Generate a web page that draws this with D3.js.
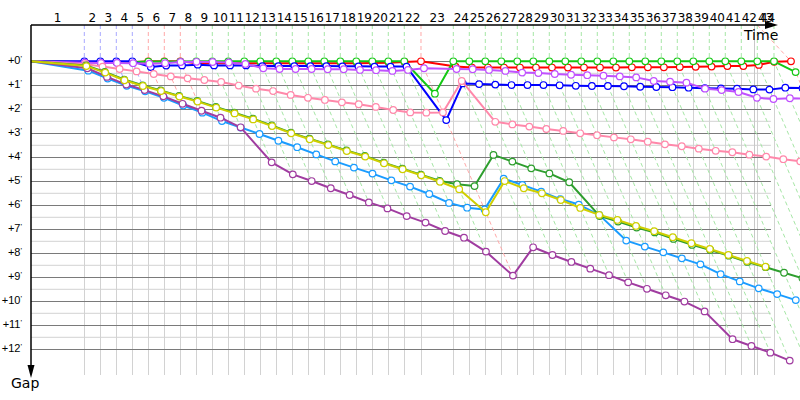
<!DOCTYPE html>
<html><head><meta charset="utf-8">
<script src="https://cdn.jsdelivr.net/npm/d3@7"></script>
<style>body{margin:0;background:#fff}svg{display:block}</style>
</head><body>
<svg id="c" width="800" height="400"></svg>
<script>
// ---------- DATA ----------
const lapLabels = ["1","2","3","4","5","6","7","8","9","10","11","12","13","14","15","16","17","18","19","20","21","22","23","24","25","26","27","28","29","30","31","32","33","34","35","36","37","38","39","40","41","42","43","44"];
// leader's lap durations, seconds
const leaderLapSeconds = [310.5,93.2,93.2,93.2,93.2,93.2,93.2,93.2,93.2,93.2,93.2,93.2,93.2,93.2,93.2,93.2,93.2,93.2,93.2,93.2,93.2,97.3,188.2,93.2,93.2,93.2,93.2,93.2,93.2,93.2,93.2,93.2,93.2,93.2,93.2,93.2,93.2,93.2,93.2,93.2,93.2,93.2,97.3,99.0];
const lapLeader = ["blue","blue","blue","blue","red","red","red","green","green","green","green","green","green","green","green","green","green","green","green","green","green","red","green","green","green","green","green","green","green","green","green","green","green","green","green","green","green","green","green","green","green","green","green","red"];
const gapTicks = [0,1,2,3,4,5,6,7,8,9,10,11,12];
const gapTickLabels = ["+0","+1","+2","+3","+4","+5","+6","+7","+8","+9","+10","+11","+12"];
const finishLineMinutes = 70.22;
const gridEndMinutes = 71.84;

// gaps to leader in minutes, index = lap (0 = start)
const gapRed = [0,0.04,0.04,0.04,0.04,0,0,0,0.08,0.08,0.08,0.08,0.08,0.08,0.08,0.08,0.08,0.08,0.08,0.07,0.06,0.03,0,0.22,0.26,0.26,0.26,0.26,0.26,0.26,0.26,0.26,0.26,0.26,0.25,0.25,0.25,0.24,0.23,0.22,0.2,0.2,0.15,0.02,0];
const gapGreen = [0,0.03,0.03,0.03,0.03,0.01,0.01,0.01,0,0,0,0,0,0,0,0,0,0,0,0,0,0,1.35,0,0,0,0,0,0,0,0,0,0,0,0,0,0,0,0,0,0,0,0,0,0.45];
const gapBlue = [0,0,0,0,0,0.24,0.18,0.17,0.14,0.17,0.17,0.17,0.2,0.2,0.2,0.2,0.2,0.21,0.21,0.22,0.22,0.22,2.45,0.92,0.95,0.97,0.99,0.99,0.99,1.0,1.02,1.03,1.03,1.04,1.06,1.07,1.08,1.1,1.12,1.13,1.14,1.17,1.18,1.1,1.12];
const gapViolet = [0,0.06,0.07,0.07,0.08,0.1,0.08,0.03,0.02,0.03,0.05,0.11,0.29,0.32,0.32,0.32,0.33,0.33,0.36,0.37,0.4,0.36,0.29,0.32,0.33,0.36,0.4,0.47,0.49,0.53,0.56,0.58,0.6,0.63,0.67,0.82,0.85,0.89,1.14,1.2,1.28,1.52,1.57,1.54,1.56];
const gapPink = [0,0.12,0.22,0.32,0.42,0.53,0.63,0.71,0.78,0.86,1.01,1.14,1.24,1.4,1.52,1.61,1.71,1.79,1.9,2.03,2.13,2.14,2.13,0.82,2.52,2.63,2.72,2.82,2.9,3.0,3.08,3.17,3.25,3.35,3.46,3.54,3.64,3.73,3.79,3.89,3.97,4.08,4.17,4.25];
const gapLightBlue = [0,0.39,0.72,1.02,1.25,1.52,1.84,2.14,2.49,2.76,3.03,3.31,3.58,3.88,4.17,4.43,4.68,4.96,5.22,5.53,5.9,6.1,6.17,4.89,5.15,5.43,5.74,5.97,6.4,7.47,7.72,7.96,8.21,8.46,8.87,9.17,9.46,9.7,9.95];
const gapPurple = [0,0.29,0.65,0.97,1.2,1.46,1.77,2.06,2.35,2.75,4.21,4.71,4.99,5.29,5.57,5.88,6.13,6.45,6.72,7.07,7.35,7.93,8.93,7.75,8.07,8.36,8.64,8.91,9.21,9.48,9.75,10.01,10.42,11.58,11.86,12.14,12.47];
const gapDarkGreen = [0,0.17,0.44,0.76,1.0,1.21,1.44,1.65,1.9,2.14,2.39,2.67,2.97,3.22,3.46,3.71,3.94,4.22,4.47,4.72,4.98,5.12,5.2,3.9,4.18,4.46,4.67,5.04,6.45,6.68,6.93,7.13,7.4,7.65,7.86,8.1,8.36,8.58,8.81,9.04];
const gapYellow = [0,0.2,0.47,0.79,1.03,1.24,1.47,1.68,1.93,2.17,2.42,2.7,3.0,3.25,3.49,3.74,3.97,4.25,4.5,4.75,5.02,5.33,6.29,4.99,5.29,5.5,5.78,6.11,6.4,6.61,6.86,7.08,7.33,7.58,7.82,8.07,8.32,8.56];
const lappedBottomGap = 13;

const series = [
  {name:"red", gaps:gapRed},
  {name:"green", gaps:gapGreen},
  {name:"blue", gaps:gapBlue},
  {name:"violet", gaps:gapViolet},
  {name:"pink", gaps:gapPink},
  {name:"lightblue", gaps:gapLightBlue},
  {name:"purple", gaps:gapPurple},
  {name:"darkgreen", gaps:gapDarkGreen},
  {name:"yellow", gaps:gapYellow}
];
const colors = {red:"#ff0000", green:"#14c814", blue:"#0000ff", violet:"#c050ff", pink:"#ff88aa", lightblue:"#1a9cff", purple:"#a03ca0", darkgreen:"#2e9e2e", yellow:"#cfcf00"};
const dashColors = {red:"#ffa8a8", green:"#a6e6a6", blue:"#a8a8ff"};

// ---------- SCALES ----------
const T = [0].concat(Array.from(d3.cumsum(leaderLapSeconds, s => s / 60)));
const x = d3.scaleLinear().domain([0, 60]).range([31, 31 + 10.3 * 60]);
const y = d3.scaleLinear().domain([0, 12]).range([61.3, 349.3]);
const topY = 25, bottomY = 375;
const nLaps = lapLabels.length;

const svg = d3.select("#c");
const font = "DejaVu Sans, sans-serif";

// horizontal grid
const halfTicks = gapTicks.slice(0, -1).map(g => g + 0.5);
svg.append("g").selectAll("line").data(halfTicks).join("line")
  .attr("x1", x(0)).attr("x2", x(gridEndMinutes))
  .attr("y1", d => y(d)).attr("y2", d => y(d))
  .attr("stroke", "#d2d2d2").attr("stroke-width", 1);
// vertical lap grid
const lapIdx = d3.range(1, nLaps);
svg.append("g").selectAll("line").data(lapIdx).join("line")
  .attr("x1", k => Math.round(x(T[k])) + 0.5).attr("x2", k => Math.round(x(T[k])) + 0.5)
  .attr("y1", y(0)).attr("y2", bottomY)
  .attr("stroke", "#d2d2d2").attr("stroke-width", 1);
svg.append("line")
  .attr("x1", Math.round(x(finishLineMinutes)) + 0.5).attr("x2", Math.round(x(finishLineMinutes)) + 0.5)
  .attr("y1", topY).attr("y2", bottomY).attr("stroke", "#c8c8c8");
svg.append("g").selectAll("line").data(gapTicks).join("line")
  .attr("x1", x(0)).attr("x2", x(gridEndMinutes))
  .attr("y1", d => Math.round(y(d)) + 0.5).attr("y2", d => Math.round(y(d)) + 0.5)
  .attr("stroke", "#7a7a7a").attr("stroke-width", 1);

// lap dashed lines (lap k connects all cars' crossings of lap k)
const lapLines = d3.range(1, nLaps + 1).map(k => {
  const gs = series.map(s => s.gaps[k]).filter(v => v !== undefined);
  const last = gapPurple.length - 1;
  const gmax = k > last ? lappedBottomGap : d3.max(gs);
  // the final lap's marker starts from the previous lap position on the time axis
  const topT = k === nLaps ? T[k - 2] : T[k];
  return {k, gmax, topT, leader: lapLeader[k - 1]};
});
svg.append("g").selectAll("path").data(lapLines).join("path")
  .attr("d", d => d3.line()([[x(d.topT), topY], [x(T[d.k]), y(0)], [x(T[d.k] + d.gmax), y(d.gmax)]]))
  .attr("fill", "none").attr("stroke", d => dashColors[d.leader])
  .attr("stroke-width", 1).attr("stroke-dasharray", "4,3");

// series
series.forEach(s => {
  const pts = s.gaps.map((g, k) => [x(T[k] + g), y(g)]);
  const g = svg.append("g");
  g.append("path").attr("d", d3.line()(pts)).attr("fill", "none")
    .attr("stroke", colors[s.name]).attr("stroke-width", 2).attr("stroke-linejoin", "round");
  g.selectAll("circle").data(pts.slice(1)).join("circle")
    .attr("cx", d => d[0]).attr("cy", d => d[1]).attr("r", 3.3)
    .attr("fill", "#fff").attr("stroke", colors[s.name]).attr("stroke-width", 1.2);
});

// axes
svg.append("line").attr("x1", x(0)).attr("x2", 768).attr("y1", topY).attr("y2", topY)
  .attr("stroke", "#000").attr("stroke-width", 1.5);
svg.append("path").attr("d", "M778,25 L765,21 L765,29 Z").attr("fill", "#000");
svg.append("line").attr("x1", x(0)).attr("x2", x(0)).attr("y1", topY).attr("y2", 368)
  .attr("stroke", "#000").attr("stroke-width", 1.5);
svg.append("path").attr("d", "M31,378 L27.5,365 L34.5,365 Z").attr("fill", "#000");

// lap labels (the final lap's label sits over the previous lap, as in the source)
svg.append("g").selectAll("text").data(lapLabels).join("text")
  .attr("x", (d, i) => i === nLaps - 1 ? (x(T[i - 1]) + x(T[i])) / 2 + 2 : (x(T[i]) + x(T[i + 1])) / 2)
  .attr("y", 22).attr("text-anchor", "middle")
  .attr("font-family", font).attr("font-size", 12).attr("fill", "#000").text(d => d);

// gap labels
const gl = svg.append("g").selectAll("text").data(gapTicks).join("text")
  .attr("x", 22).attr("y", d => y(d) + 3).attr("text-anchor", "end")
  .attr("font-family", "Liberation Sans, sans-serif").attr("font-size", 11).attr("fill", "#000");
gl.append("tspan").text((d, i) => gapTickLabels[i]);
gl.append("tspan").attr("font-size", 8).attr("dy", -3).text("'");

svg.append("text").attr("x", 744).attr("y", 40).attr("font-family", font).attr("font-size", 14).text("Time");
svg.append("text").attr("x", 11).attr("y", 388).attr("font-family", font).attr("font-size", 14).text("Gap");
</script>
</body></html>
